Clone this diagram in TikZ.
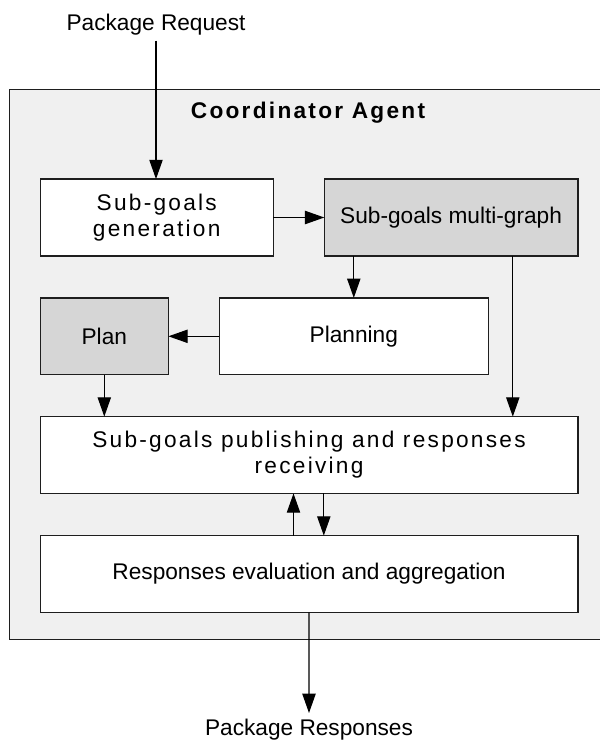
\documentclass[tikz,border=0pt]{standalone}
\usepackage{fontspec}
\setmainfont{Liberation Sans}
\newfontfamily\spacedfont[LetterSpace=10]{Liberation Sans}
\usetikzlibrary{arrows.meta}
\definecolor{outerbg}{HTML}{F0F0F0}
\definecolor{greybox}{HTML}{D6D6D6}
\definecolor{edge}{HTML}{1E1E1E}
\begin{document}
\begin{tikzpicture}[x=0.75pt,y=-0.75pt,
  box/.style={draw=edge,line width=1pt,fill=white,inner sep=0pt,outer sep=0pt,
    minimum height=57.6pt,align=center,font=\fontsize{17}{19.5}\selectfont},
  greyfill/.style={fill=greybox},
  spaced/.style={font=\fontsize{17}{19.5}\selectfont\spacedfont},
  arr/.style={draw=black,line width=0.85pt,-{Triangle[length=14.5pt,width=10pt]}},
  lbl/.style={inner sep=0pt,anchor=base,font=\fontsize{17}{19.5}\selectfont}]
\useasboundingbox (0,0) rectangle (600,744);
\clip (0,0) rectangle (600,744);
% outer agent box
\draw[draw=edge,line width=1.1pt,fill=outerbg] (9.5,89.5) rectangle (640,639.5);
\node[lbl,font=\fontsize{17}{19.5}\selectfont\spacedfont\bfseries] (title) at (308,118.3) {Coordinator Agent};
% external labels
\node[lbl] (req) at (156,30.7) {Package Request};
\node[lbl] (resp) at (309,735) {Package Responses};
\coordinate (reqout) at (156,40.7);
\coordinate (respin) at (309,713);
% boxes
\node[box,spaced,minimum width=174.8pt] (gen) at (156.75,217.5) {Sub-goals\\generation};
\node[box,greyfill,minimum width=190.2pt] (multi) at (451.1,217.5) {Sub-goals multi-graph};
\node[box,greyfill,minimum width=96.15pt] (plan) at (104.3,336.3) {Plan};
\node[box,minimum width=201.75pt] (planning) at (353.8,336.3) {Planning};
\node[box,spaced,minimum width=403.3pt] (pub) at (309.05,455) {Sub-goals publishing and responses\\receiving};
\node[box,minimum width=403.3pt] (eval) at (309.05,574) {Responses evaluation and aggregation};
% helper x positions
\coordinate (xm) at (512.8,0);
\coordinate (xup) at (293.5,0);
\coordinate (xdown) at (323.8,0);
% connectors
\draw[arr] (reqout) -- (reqout |- gen.north);
\draw[arr] (gen.east) -- (multi.west);
\draw[arr] (planning.north |- multi.south) -- (planning.north);
\draw[arr] (xm |- multi.south) -- (xm |- pub.north);
\draw[arr] (planning.west) -- (plan.east);
\draw[arr] (plan.south) -- (plan.south |- pub.north);
\draw[arr] (xup |- eval.north) -- (xup |- pub.south);
\draw[arr] (xdown |- pub.south) -- (xdown |- eval.north);
\draw[arr] (eval.south) -- (respin);
\end{tikzpicture}
\end{document}
